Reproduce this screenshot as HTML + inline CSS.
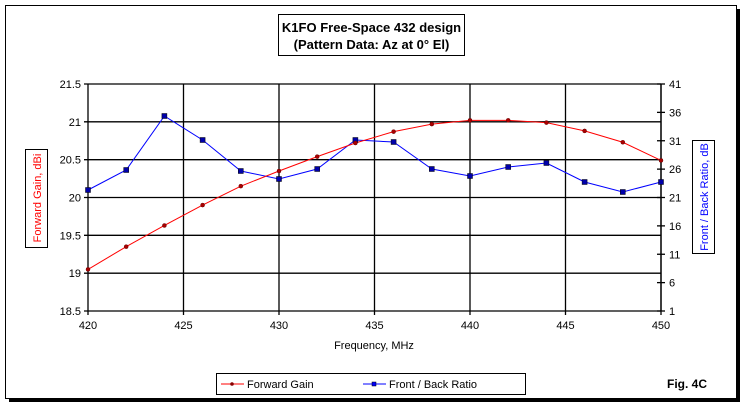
<!DOCTYPE html>
<html><head><meta charset="utf-8"><style>
body{margin:0;background:#fff;}
svg{display:block;font-family:"Liberation Sans",sans-serif;}
</style></head><body>
<svg id="s" width="744" height="407" viewBox="0 0 744 407" xmlns="http://www.w3.org/2000/svg">
<rect width="744" height="407" fill="#fff"/>
<rect x="9" y="9" width="731" height="393" fill="#000"/>
<rect x="5.5" y="5.5" width="731" height="393" fill="#fff" stroke="#000" stroke-width="1"/>
<g stroke="#000" stroke-width="1.3" id="grid"></g>
<rect x="278.5" y="14.5" width="186" height="41" fill="#fff" stroke="#000"/>
<text x="371.5" y="32" text-anchor="middle" font-size="13" font-weight="bold">K1FO Free-Space 432 design</text>
<text x="371.5" y="49" text-anchor="middle" font-size="13" font-weight="bold">(Pattern Data: Az at 0° El)</text>
<rect x="25.5" y="149.5" width="22" height="98" fill="#fff" stroke="#000"/>
<text transform="translate(41,198) rotate(-90)" text-anchor="middle" font-size="11" fill="#f00">Forward Gain,  dBi</text>
<rect x="692.5" y="140.5" width="22" height="113" fill="#fff" stroke="#000"/>
<text transform="translate(708,197) rotate(-90)" text-anchor="middle" font-size="11" fill="#00f">Front / Back Ratio,  dB</text>
<text x="374" y="349" text-anchor="middle" font-size="11">Frequency, MHz</text>
<rect x="216.5" y="373.5" width="309" height="21" fill="#fff" stroke="#000"/>
<line x1="221" y1="384" x2="244" y2="384" stroke="#f00"/><circle cx="232" cy="384" r="1.8" fill="#800" />
<text x="247" y="388" font-size="11">Forward Gain</text>
<line x1="363" y1="384" x2="386" y2="384" stroke="#00f"/><rect x="372" y="382" width="4" height="4" fill="#00f" stroke="#000" stroke-width="0.5"/>
<text x="389" y="388" font-size="11">Front / Back Ratio</text>
<text x="667" y="388" font-size="12" font-weight="bold">Fig. 4C</text>
<g id="data"></g>
</svg>
<script>
var NS="http://www.w3.org/2000/svg",s=document.getElementById('s'),g=document.getElementById('grid'),d=document.getElementById('data');
function el(p,t,a,txt){var e=document.createElementNS(NS,t);for(var k in a)e.setAttribute(k,a[k]);if(txt!=null)e.textContent=txt;p.appendChild(e);return e;}
var L=88,R=661,T=84,B=311;
function X(f){return L+(f-420)/30*(R-L);}
for(var i=0;i<=6;i++){var y=T+i*(B-T)/6;el(g,'line',{x1:L-4,x2:R,y1:y,y2:y});
 el(s,'text',{x:L-7,y:y+4,'text-anchor':'end','font-size':11},(21.5-i*0.5).toString());}
for(var i=0;i<=6;i++){var x=L+i*(R-L)/6;el(g,'line',{x1:x,x2:x,y1:T,y2:B+4});
 el(s,'text',{x:x,y:B+18,'text-anchor':'middle','font-size':11},(420+5*i).toString());}
el(g,'line',{x1:R,x2:R,y1:T,y2:B});
for(var i=0;i<=8;i++){var y=T+i*(B-T)/8;el(g,'line',{x1:R-4,x2:R+4,y1:y,y2:y});
 el(s,'text',{x:R+8,y:y+4,'font-size':11},(41-5*i).toString());}
var fg=[19.05,19.35,19.63,19.9,20.15,20.35,20.54,20.72,20.87,20.97,21.02,21.02,20.99,20.88,20.73,20.49];
var fb=[190,170,116,140,171,179,169,140,142,169,176,167,163,182,192,182];
var pr=[],pb=[];
for(var i=0;i<16;i++){var x=X(420+2*i);pr.push(x+','+(T+(21.5-fg[i])*(B-T)/3));pb.push(x+','+fb[i]);}
el(d,'polyline',{points:pb.join(' '),fill:'none',stroke:'#00f','stroke-width':1});
el(d,'polyline',{points:pr.join(' '),fill:'none',stroke:'#f00','stroke-width':1});
pb.forEach(function(p){var q=p.split(',');el(d,'rect',{x:q[0]-2.5,y:q[1]-2.5,width:5,height:5,fill:'#00a',stroke:'#000','stroke-width':0.5});});
pr.forEach(function(p){var q=p.split(',');el(d,'circle',{cx:q[0],cy:q[1],r:2,fill:'#a00',stroke:'#600','stroke-width':0.5});});
</script>
</body></html>
